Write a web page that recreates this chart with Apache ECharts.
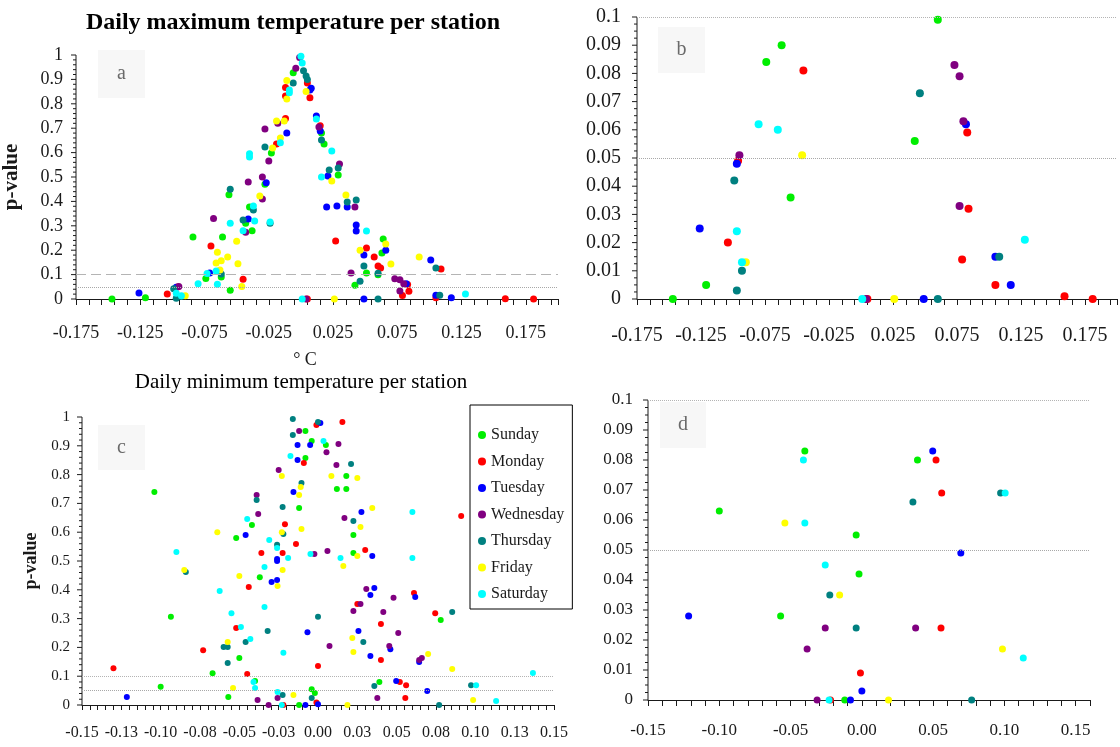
<!DOCTYPE html>
<html>
<head>
<meta charset="utf-8">
<script src="https://cdn.jsdelivr.net/npm/echarts@6.0.0/dist/echarts.min.js"></script>
<style>
  html, body { margin: 0; padding: 0; background: #fff; }
  #chart { width: 1120px; height: 747px; }
</style>
</head>
<body>
<div id="chart"></div>
<script>
// weekdays and their marker colours
const days = ['Sunday', 'Monday', 'Tuesday', 'Wednesday', 'Thursday', 'Friday', 'Saturday']
const dayColors = ['#00ee00', '#ff0000', '#0000ff', '#800080', '#008080', '#ffff00', '#00ffff']

// tick labels
const xLabelsMax = ['-0.175', '-0.125', '-0.075', '-0.025', '0.025', '0.075', '0.125', '0.175']
const xLabelsMinC = ['-0.15', '-0.13', '-0.10', '-0.08', '-0.05', '-0.03', '0.00', '0.03', '0.05', '0.08', '0.10', '0.13', '0.15']
const xLabelsMinD = ['-0.15', '-0.10', '-0.05', '0.00', '0.05', '0.10', '0.15']

// daily maximum temperature: [trend °C, p-value]
const maxSunday = [[-0.147, 0], [-0.121, 0.005], [-0.084, 0.254], [-0.074, 0.084], [-0.062, 0.090], [-0.061, 0.254], [-0.056, 0.427], [-0.055, 0.036], [-0.043, 0.31], [-0.040, 0.377], [-0.038, 0.28], [-0.028, 0.47], [-0.023, 0.598], [-0.006, 0.927], [0.016, 0.68], [0.018, 0.635], [0.029, 0.508], [0.042, 0.056], [0.051, 0.107], [0.060, 0.099], [0.063, 0.189], [0.064, 0.246]]
const maxMonday = [[-0.104, 0.020], [-0.096, 0.049], [-0.070, 0.217], [-0.045, 0.081], [-0.019, 0.635], [-0.012, 0.74], [-0.012, 0.832], [-0.012, 0.867], [0.005, 0], [0.005, 0.885], [0.007, 0.825], [0.015, 0.71], [0.027, 0.238], [0.051, 0.209], [0.057, 0.172], [0.060, 0.135], [0.062, 0.127], [0.079, 0.014], [0.083, 0.059], [0.084, 0.032], [0.105, 0.005], [0.109, 0.123], [0.159, 0.001], [0.181, 0]]
const maxTuesday = [[-0.126, 0.025], [-0.097, 0.048], [-0.071, 0.107], [-0.041, 0.328], [-0.027, 0.476], [-0.011, 0.68], [0.007, 0.857], [0.008, 0.864], [0.012, 0.75], [0.015, 0.689], [0.020, 0.377], [0.021, 0.504], [0.028, 0.381], [0.036, 0.377], [0.043, 0.279], [0.043, 0.303], [0.049, 0], [0.049, 0.18], [0.066, 0.2], [0.082, 0.062], [0.101, 0.16], [0.105, 0.015], [0.117, 0.005]]
const maxWednesday = [[-0.095, 0.051], [-0.068, 0.33], [-0.043, 0.274], [-0.041, 0.48], [-0.030, 0.41], [-0.030, 0.5], [-0.028, 0.697], [-0.025, 0.566], [-0.018, 0.72], [-0.004, 0.946], [-0.001, 0.99], [0.004, 0], [0.014, 0.705], [0.030, 0.553], [0.039, 0.107], [0.042, 0.377], [0.073, 0.083], [0.077, 0.079], [0.077, 0.033], [0.080, 0.063]]
const maxThursday = [[-0.099, 0.042], [-0.097, 0.003], [-0.093, 0.010], [-0.062, 0.102], [-0.055, 0.45], [-0.045, 0.324], [-0.037, 0.365], [-0.028, 0.623], [-0.024, 0.31], [-0.006, 0.885], [0.002, 0.935], [0.004, 0.914], [0.005, 0.9], [0.016, 0.652], [0.022, 0.529], [0.029, 0.537], [0.036, 0.398], [0.043, 0.406], [0.046, 0.073], [0.049, 0.135], [0.060, 0], [0.060, 0.106], [0.105, 0.127], [0.108, 0.015]]
const maxFriday = [[-0.090, 0.013], [-0.066, 0.148], [-0.065, 0.192], [-0.063, 0.119], [-0.062, 0.157], [-0.057, 0.172], [-0.050, 0.237], [-0.049, 0.144], [-0.046, 0.051], [-0.032, 0.422], [-0.022, 0.619], [-0.019, 0.73], [-0.016, 0.66], [-0.013, 0.73], [-0.011, 0.82], [-0.011, 0.895], [0.004, 0.85], [0.024, 0.484], [0.026, 0], [0.035, 0.426], [0.046, 0.2], [0.066, 0.225], [0.070, 0.143], [0.092, 0.172]]
const maxSaturday = [[-0.097, 0.024], [-0.093, 0.013], [-0.080, 0.062], [-0.073, 0.105], [-0.066, 0.115], [-0.065, 0.060], [-0.055, 0.31], [-0.045, 0.28], [-0.040, 0.582], [-0.040, 0.595], [-0.037, 0.381], [-0.036, 0.32], [-0.024, 0.316], [-0.016, 0.64], [-0.009, 0.845], [-0.009, 0.857], [0.000, 0.995], [0.001, 0], [0.001, 0.967], [0.012, 0.738], [0.016, 0.5], [0.024, 0.607], [0.051, 0.279], [0.128, 0.021]]

// daily minimum temperature: [trend °C, p-value]
const minSunday = [[-0.104, 0.74], [-0.100, 0.063], [-0.0935, 0.306], [-0.067, 0.11], [-0.057, 0.028], [-0.052, 0.58], [-0.050, 0.163], [-0.042, 0.625], [-0.040, 0.083], [-0.037, 0.444], [-0.012, 0], [-0.012, 0.684], [-0.008, 0.951], [-0.008, 0.858], [-0.004, 0.917], [-0.004, 0.055], [-0.002, 0.042], [0.005, 0.903], [0.012, 0.75], [0.018, 0.795], [0.018, 0.75], [0.0225, 0.59], [0.0225, 0.528], [0.039, 0.08], [0.078, 0.295]]
const minMonday = [[-0.130, 0.128], [-0.073, 0.19], [-0.052, 0.267], [-0.045, 0.108], [-0.044, 0.41], [-0.036, 0.528], [-0.0225, 0.528], [-0.022, 0], [-0.021, 0.628], [-0.014, 0.559], [-0.009, 0.84], [-0.001, 0.972], [-0.001, 0.009], [0.000, 0.135], [0.0155, 0.983], [0.025, 0.351], [0.030, 0.538], [0.040, 0.281], [0.040, 0.156], [0.052, 0.08], [0.056, 0.069], [0.0555, 0.024], [0.061, 0.389], [0.0745, 0.319], [0.091, 0.656]]
const minTuesday = [[-0.1215, 0.028], [-0.046, 0.59], [-0.0295, 0.427], [-0.026, 0.434], [-0.026, 0.5], [-0.026, 0.507], [-0.0156, 0.74], [-0.013, 0.903], [-0.013, 0.851], [-0.008, 0], [-0.0067, 0.253], [-0.005, 0.903], [0.000, 0.003], [0.0015, 0.979], [0.0257, 0.257], [0.0276, 0.67], [0.0333, 0.382], [0.0333, 0.17], [0.0345, 0.517], [0.0358, 0.406], [0.046, 0.194], [0.0497, 0.083], [0.0618, 0.375], [0.0643, 0.149], [0.0694, 0.049]]
const minWednesday = [[-0.039, 0.729], [-0.038, 0.663], [-0.0384, 0.017], [-0.0314, 0], [-0.0257, 0.024], [-0.025, 0.816], [-0.012, 0.951], [-0.0023, 0.524], [0.0054, 0.878], [0.006, 0.535], [0.0073, 0.205], [0.0117, 0.833], [0.013, 0.906], [0.0168, 0.649], [0.0225, 0.326], [0.027, 0.351], [0.0307, 0.403], [0.0377, 0.024], [0.0415, 0.323], [0.0453, 0.205], [0.048, 0.372], [0.051, 0.25], [0.0643, 0.156], [0.066, 0.163]]
const minThursday = [[-0.084, 0.462], [-0.060, 0.201], [-0.0574, 0.201], [-0.0574, 0.146], [-0.046, 0.219], [-0.039, 0.712], [-0.032, 0.257], [-0.026, 0.556], [-0.0225, 0.6875], [-0.022, 0.594], [-0.0225, 0.035], [-0.016, 0.993], [-0.016, 0.9375], [-0.0105, 0.771], [-0.004, 0.024], [0.000, 0.983], [0.000, 0.306], [0.021, 0.837], [0.0225, 0.639], [0.0288, 0.219], [0.0358, 0.066], [0.077, 0], [0.0853, 0.323], [0.0973, 0.069]]
const minFriday = [[-0.085, 0.469], [-0.064, 0.60], [-0.0574, 0.219], [-0.054, 0.059], [-0.050, 0.448], [-0.0257, 0.413], [-0.023, 0.795], [-0.023, 0.60], [-0.0225, 0.469], [-0.0156, 0.035], [-0.012, 0.729], [-0.011, 0.757], [-0.0105, 0.611], [0.0085, 0.795], [0.0161, 0.483], [0.0187, 0], [0.0218, 0.233], [0.0225, 0.184], [0.025, 0.788], [0.025, 0.517], [0.027, 0.618], [0.0345, 0.684], [0.070, 0.177], [0.0853, 0.125], [0.0986, 0.017]]
const minSaturday = [[-0.090, 0.531], [-0.0625, 0.396], [-0.055, 0.319], [-0.049, 0.271], [-0.045, 0.646], [-0.043, 0.229], [-0.041, 0.08], [-0.040, 0.059], [-0.034, 0.479], [-0.034, 0.34], [-0.031, 0.573], [-0.026, 0.545], [-0.0257, 0.045], [-0.023, 0], [-0.022, 0.181], [-0.019, 0.51], [-0.0175, 0.865], [-0.0048, 0.524], [0.0035, 0.917], [0.0143, 0.51], [0.060, 0.67], [0.060, 0.51], [0.1005, 0.069], [0.1132, 0.014], [0.1366, 0.111]]

const maxByDay = [maxSunday, maxMonday, maxTuesday, maxWednesday, maxThursday, maxFriday, maxSaturday]
const minByDay = [minSunday, minMonday, minTuesday, minWednesday, minThursday, minFriday, minSaturday]

const SERIF = "'Liberation Serif', 'DejaVu Serif', serif"
const INK = '#1a1a1a'

const xAxisFor = (gridIndex, min, max, step, labels, every, fontSize, margin, tickLen) => ({
  type: 'value',
  gridIndex,
  min,
  max,
  interval: step,
  axisLine: { show: true, onZero: false, lineStyle: { color: INK, width: 1 } },
  axisTick: { show: true, length: tickLen, lineStyle: { color: INK } },
  axisLabel: {
    margin,
    fontSize,
    fontFamily: SERIF,
    color: INK,
    formatter: (v) => {
      const k = Math.round((v - min) / step)
      if (k % every !== 0) return ''
      return labels[k / every] !== undefined ? labels[k / every] : ''
    }
  },
  splitLine: { show: false }
})

// labels only: the left line and its ticks are drawn as series below
const yAxisFor = (gridIndex, max, step, fontSize, margin, name, nameSize, nameGap) => {
  const axis = {
    type: 'value',
    gridIndex,
    min: 0,
    max,
    interval: step,
    axisLine: { show: false, onZero: false },
    axisTick: { show: false },
    axisLabel: { margin, fontSize, fontFamily: SERIF, color: INK },
    splitLine: { show: false }
  }
  if (name) {
    Object.assign(axis, {
      name,
      nameLocation: 'middle',
      nameGap,
      nameTextStyle: { fontFamily: SERIF, fontWeight: 'bold', fontSize: nameSize, color: INK }
    })
  }
  return axis
}

// left axis of each panel: x where it stands, top value, tick step, long tick every n
const yTickSpecs = [
  { grid: 0, xAt: -0.175, max: 1, step: 0.02, every: 5 },
  { grid: 1, xAt: -0.175, max: 0.1, step: 0.0025, every: 4 },
  { grid: 2, xAt: -0.15, max: 1, step: 0.02, every: 5 },
  { grid: 3, xAt: -0.15, max: 0.1, step: 0.0025, every: 4 }
]

const refLines = (withDashed) => ({
  silent: true,
  symbol: ['none', 'none'],
  label: { show: false },
  data: [
    { yAxis: 0.1, lineStyle: { color: '#b4b4b4', width: 1, type: withDashed ? [10, 5] : 'dotted' } },
    { yAxis: 0.05, lineStyle: { color: '#a8a8a8', width: 1, type: 'dotted' } }
  ]
})

const series = []

// axis line and ticks, through the panel's own scales
yTickSpecs.forEach(spec => {
  const n = Math.round(spec.max / spec.step)
  const major = []
  const minor = []
  for (let i = 0; i <= n; i++) {
    const v = +(i * spec.step).toFixed(6)
    if (i % spec.every === 0) major.push([spec.xAt, v])
    else minor.push([spec.xAt, v])
  }
  series.push({
    type: 'line',
    name: 'axis' + spec.grid,
    xAxisIndex: spec.grid,
    yAxisIndex: spec.grid,
    data: [[spec.xAt, 0], [spec.xAt, spec.max]],
    symbol: 'none',
    clip: false,
    silent: true,
    z: 3,
    lineStyle: { color: INK, width: 1 }
  })
  series.push({
    type: 'scatter',
    name: 'ticks' + spec.grid,
    xAxisIndex: spec.grid,
    yAxisIndex: spec.grid,
    data: major,
    symbol: 'rect',
    symbolSize: [5, 1],
    symbolOffset: [-2.5, 0],
    clip: false,
    silent: true,
    z: 3,
    itemStyle: { color: INK, opacity: 1 }
  })
  series.push({
    type: 'scatter',
    name: 'minorTicks' + spec.grid,
    xAxisIndex: spec.grid,
    yAxisIndex: spec.grid,
    data: minor,
    symbol: 'rect',
    symbolSize: [3, 1],
    symbolOffset: [-1.5, 0],
    clip: false,
    silent: true,
    z: 3,
    itemStyle: { color: INK, opacity: 1 }
  })
})

const panels = [
  { idx: 0, data: maxByDay, size: 7, dashed: true },
  { idx: 1, data: maxByDay, size: 8, dashed: false },
  { idx: 2, data: minByDay, size: 6, dashed: false },
  { idx: 3, data: minByDay, size: 7, dashed: false }
]
panels.forEach(p => {
  days.forEach((day, d) => {
    const s = {
      type: 'scatter',
      name: day,
      xAxisIndex: p.idx,
      yAxisIndex: p.idx,
      symbol: 'circle',
      symbolSize: p.size,
      clip: true,
      z: 4,
      itemStyle: { color: dayColors[d], opacity: 1 },
      emphasis: { disabled: true },
      data: p.data[d]
    }
    if (d === 0) s.markLine = refLines(p.dashed)
    series.push(s)
  })
})

const panelTag = (x, y, w, h, letter) => ({
  type: 'group',
  children: [
    { type: 'rect', shape: { x, y, width: w, height: h }, style: { fill: '#f7f7f7' } },
    { type: 'text', x: x + w / 2, y: y + h / 2, style: { text: letter, font: `20px ${SERIF}`, fill: '#6a6a6a', align: 'center', verticalAlign: 'middle' } }
  ]
})

const chart = echarts.init(document.getElementById('chart'))

chart.setOption({
  backgroundColor: '#fff',
  animation: false,
  grid: [
    { left: 75, top: 55, width: 483, height: 244 },
    { left: 637, top: 17, width: 481, height: 282 },
    { left: 82, top: 417, width: 472, height: 288 },
    { left: 648, top: 400, width: 442, height: 300 }
  ],
  xAxis: [
    xAxisFor(0, -0.175, 0.2, 0.01, xLabelsMax, 5, 18, 25, 6),
    xAxisFor(1, -0.175, 0.2, 0.01, xLabelsMax, 5, 20, 27, 6),
    xAxisFor(2, -0.15, 0.15, 0.005, xLabelsMinC, 5, 16, 20, 5),
    xAxisFor(3, -0.15, 0.16, 0.01, xLabelsMinD, 5, 17, 22, 6)
  ],
  yAxis: [
    yAxisFor(0, 1, 0.1, 18, 13, 'p-value', 21, 54),
    yAxisFor(1, 0.1, 0.01, 20, 16, '', 18, 0),
    yAxisFor(2, 1, 0.1, 15, 12, 'p-value', 18, 42),
    yAxisFor(3, 0.1, 0.01, 17, 15, '', 18, 0)
  ],
  legend: {
    orient: 'vertical',
    left: 470,
    top: 405,
    data: days,
    icon: 'circle',
    itemWidth: 8,
    itemHeight: 8,
    itemGap: 8.5,
    padding: [21, 8, 6, 8],
    borderColor: '#000',
    borderWidth: 1,
    backgroundColor: '#fff',
    selectedMode: false,
    textStyle: { fontFamily: SERIF, fontSize: 16, color: INK, lineHeight: 18 }
  },
  graphic: [
    { type: 'text', x: 293, y: 23, style: { text: 'Daily maximum temperature per station', font: `bold 24px ${SERIF}`, fill: '#000', align: 'center', verticalAlign: 'middle' } },
    { type: 'text', x: 301, y: 382, style: { text: 'Daily minimum temperature per station', font: `21px ${SERIF}`, fill: '#000', align: 'center', verticalAlign: 'middle' } },
    { type: 'text', x: 305, y: 360, style: { text: '° C', font: `18px ${SERIF}`, fill: INK, align: 'center', verticalAlign: 'middle' } },
    panelTag(98, 50, 47, 48, 'a'),
    panelTag(658, 27, 47, 46, 'b'),
    panelTag(98, 425, 47, 45, 'c'),
    panelTag(660, 402, 46, 46, 'd')
  ],
  series
})
</script>
</body>
</html>
